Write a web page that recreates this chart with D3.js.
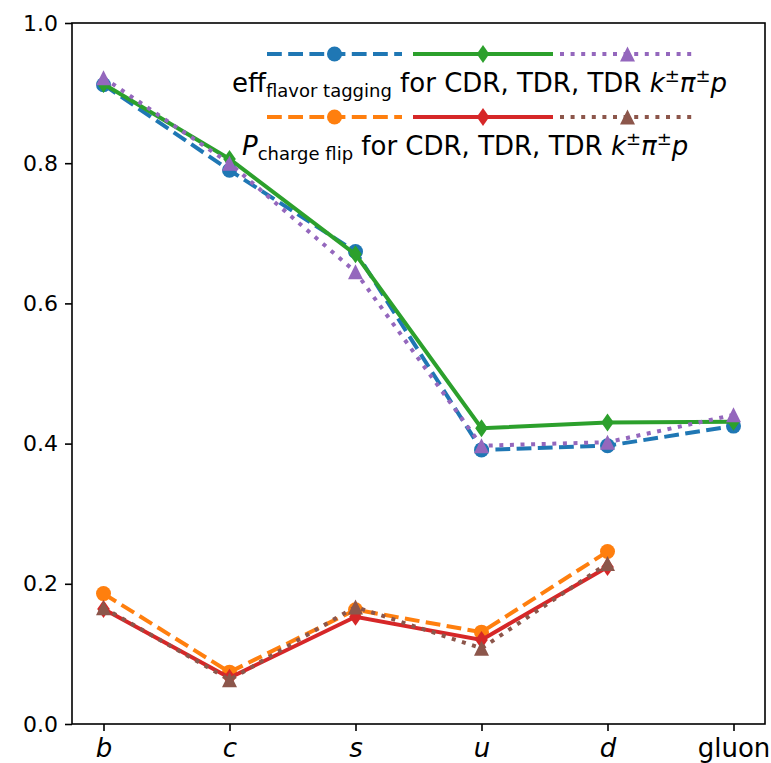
<!DOCTYPE html>
<html>
<head>
<meta charset="utf-8">
<script src="https://cdn.jsdelivr.net/npm/d3@7"></script>
<style>
  body { margin: 0; background: #fff; }
  svg { display: block; font-family: "DejaVu Sans", sans-serif; }
  .axis path, .axis line { stroke: #000; stroke-width: 1.6; }
  .axis text { fill: #000; font-family: "DejaVu Sans", sans-serif; }
</style>
</head>
<body>
<svg id="chart" width="771" height="763"></svg>
<script>
// categories and values
var categories = ["b", "c", "s", "u", "d", "gluon"];
var effCDR     = [0.912, 0.790, 0.674, 0.391, 0.397, 0.425];
var effTDR     = [0.913, 0.806, 0.670, 0.422, 0.430, 0.431];
var effTDRkpp  = [0.922, 0.800, 0.645, 0.397, 0.402, 0.441];
var flipCDR    = [0.186, 0.074, 0.163, 0.131, 0.246];
var flipTDR    = [0.164, 0.066, 0.153, 0.120, 0.224];
var flipTDRkpp = [0.166, 0.063, 0.167, 0.108, 0.229];
var yTicks = [0, 0.2, 0.4, 0.6, 0.8, 1.0];

(function() {

var plotLeft = 72, plotRight = 765, plotTop = 23, plotBottom = 724;
var lw = 4, ms = 15;

var svg = d3.select("#chart");

var x = d3.scalePoint()
    .domain(categories)
    .range([plotLeft, plotRight])
    .padding(0.25);
var y = d3.scaleLinear()
    .domain([0, 1])
    .range([plotBottom, plotTop]);

// marker shapes, matplotlib style
function markerPath(type, s) {
  var h = s / 2;
  if (type == "o") return d3.symbol(d3.symbolCircle, Math.PI * h * h)();
  if (type == "d") { h = h * 1.2; return "M0," + (-h) + "L" + (0.7 * h) + ",0L0," + h + "L" + (-0.7 * h) + ",0Z"; }
  if (type == "^") return "M0," + (-h) + "L" + h + "," + h + "L" + (-h) + "," + h + "Z";
}

var series = [
  { values: effCDR,     color: "#1f77b4", dash: "14.8,6.4", marker: "o" },
  { values: effTDR,     color: "#2ca02c", dash: null,       marker: "d" },
  { values: effTDRkpp,  color: "#9467bd", dash: "4,6.6",    marker: "^" },
  { values: flipCDR,    color: "#ff7f0e", dash: "14.8,6.4", marker: "o" },
  { values: flipTDR,    color: "#d62728", dash: null,       marker: "d" },
  { values: flipTDRkpp, color: "#8c564b", dash: "4,6.6",    marker: "^" }
];

var line = d3.line()
    .x(function(d, i) { return x(categories[i]); })
    .y(function(d) { return y(d); });

series.forEach(function(s) {
  var g = svg.append("g");
  g.append("path")
      .attr("d", line(s.values))
      .attr("fill", "none")
      .attr("stroke", s.color)
      .attr("stroke-width", lw)
      .attr("stroke-dasharray", s.dash);
  g.selectAll("path.mk")
      .data(s.values)
    .enter().append("path")
      .attr("class", "mk")
      .attr("d", markerPath(s.marker, ms))
      .attr("fill", s.color)
      .attr("transform", function(d, i) { return "translate(" + x(categories[i]) + "," + y(d) + ")"; });
});

// box
svg.append("rect")
    .attr("x", plotLeft).attr("y", plotTop)
    .attr("width", plotRight - plotLeft).attr("height", plotBottom - plotTop)
    .attr("fill", "none").attr("stroke", "#000").attr("stroke-width", 1.6);

// axes
var yAxis = svg.append("g")
    .attr("class", "axis")
    .attr("transform", "translate(" + plotLeft + ",0)")
    .call(d3.axisLeft(y).tickValues(yTicks).tickFormat(d3.format(".1f")).tickSize(7).tickSizeOuter(0).tickPadding(7));
yAxis.select(".domain").remove();
yAxis.selectAll("text").style("font-size", "22px");

var xAxis = svg.append("g")
    .attr("class", "axis")
    .attr("transform", "translate(0," + plotBottom + ")")
    .call(d3.axisBottom(x).tickSize(7).tickSizeOuter(0).tickPadding(8));
xAxis.select(".domain").remove();
xAxis.selectAll("text")
    .style("font-size", "26px")
    .style("font-style", function(d) { return d == "gluon" ? "normal" : "italic"; });

// legend: each entry is three handle segments above the label
var legendSegs = [[267, 402], [413, 553], [560, 695]];
var legendRows = [
  { y: 54,  series: series.slice(0, 3), textX: 232, textY: 92, main: "eff", sub: "flavor tagging", italicMain: false },
  { y: 117, series: series.slice(3, 6), textX: 242, textY: 155, main: "P", sub: "charge flip", italicMain: true }
];

legendRows.forEach(function(row) {
  var g = svg.append("g");
  row.series.forEach(function(s, i) {
    var seg = legendSegs[i];
    g.append("line")
        .attr("x1", seg[0]).attr("x2", seg[1])
        .attr("y1", row.y).attr("y2", row.y)
        .attr("stroke", s.color)
        .attr("stroke-width", lw)
        .attr("stroke-dasharray", s.dash);
    g.append("path")
        .attr("d", markerPath(s.marker, ms))
        .attr("fill", s.color)
        .attr("transform", "translate(" + ((seg[0] + seg[1]) / 2) + "," + row.y + ")");
  });
  var t = g.append("text")
      .attr("x", row.textX).attr("y", row.textY)
      .style("font-size", "26px").attr("fill", "#000");
  t.append("tspan").text(row.main).style("font-style", row.italicMain ? "italic" : "normal");
  t.append("tspan").text(row.sub).attr("dy", 5).style("font-size", "18px");
  t.append("tspan").text(" for CDR, TDR, TDR ").attr("dy", -5);
  t.append("tspan").text("k").style("font-style", "italic");
  t.append("tspan").text("±").attr("dy", -10).style("font-size", "18px");
  t.append("tspan").text("π").attr("dy", 10).style("font-style", "italic");
  t.append("tspan").text("±").attr("dy", -10).style("font-size", "18px");
  t.append("tspan").text("p").attr("dy", 10).style("font-style", "italic");
});

})();
</script>
</body>
</html>
